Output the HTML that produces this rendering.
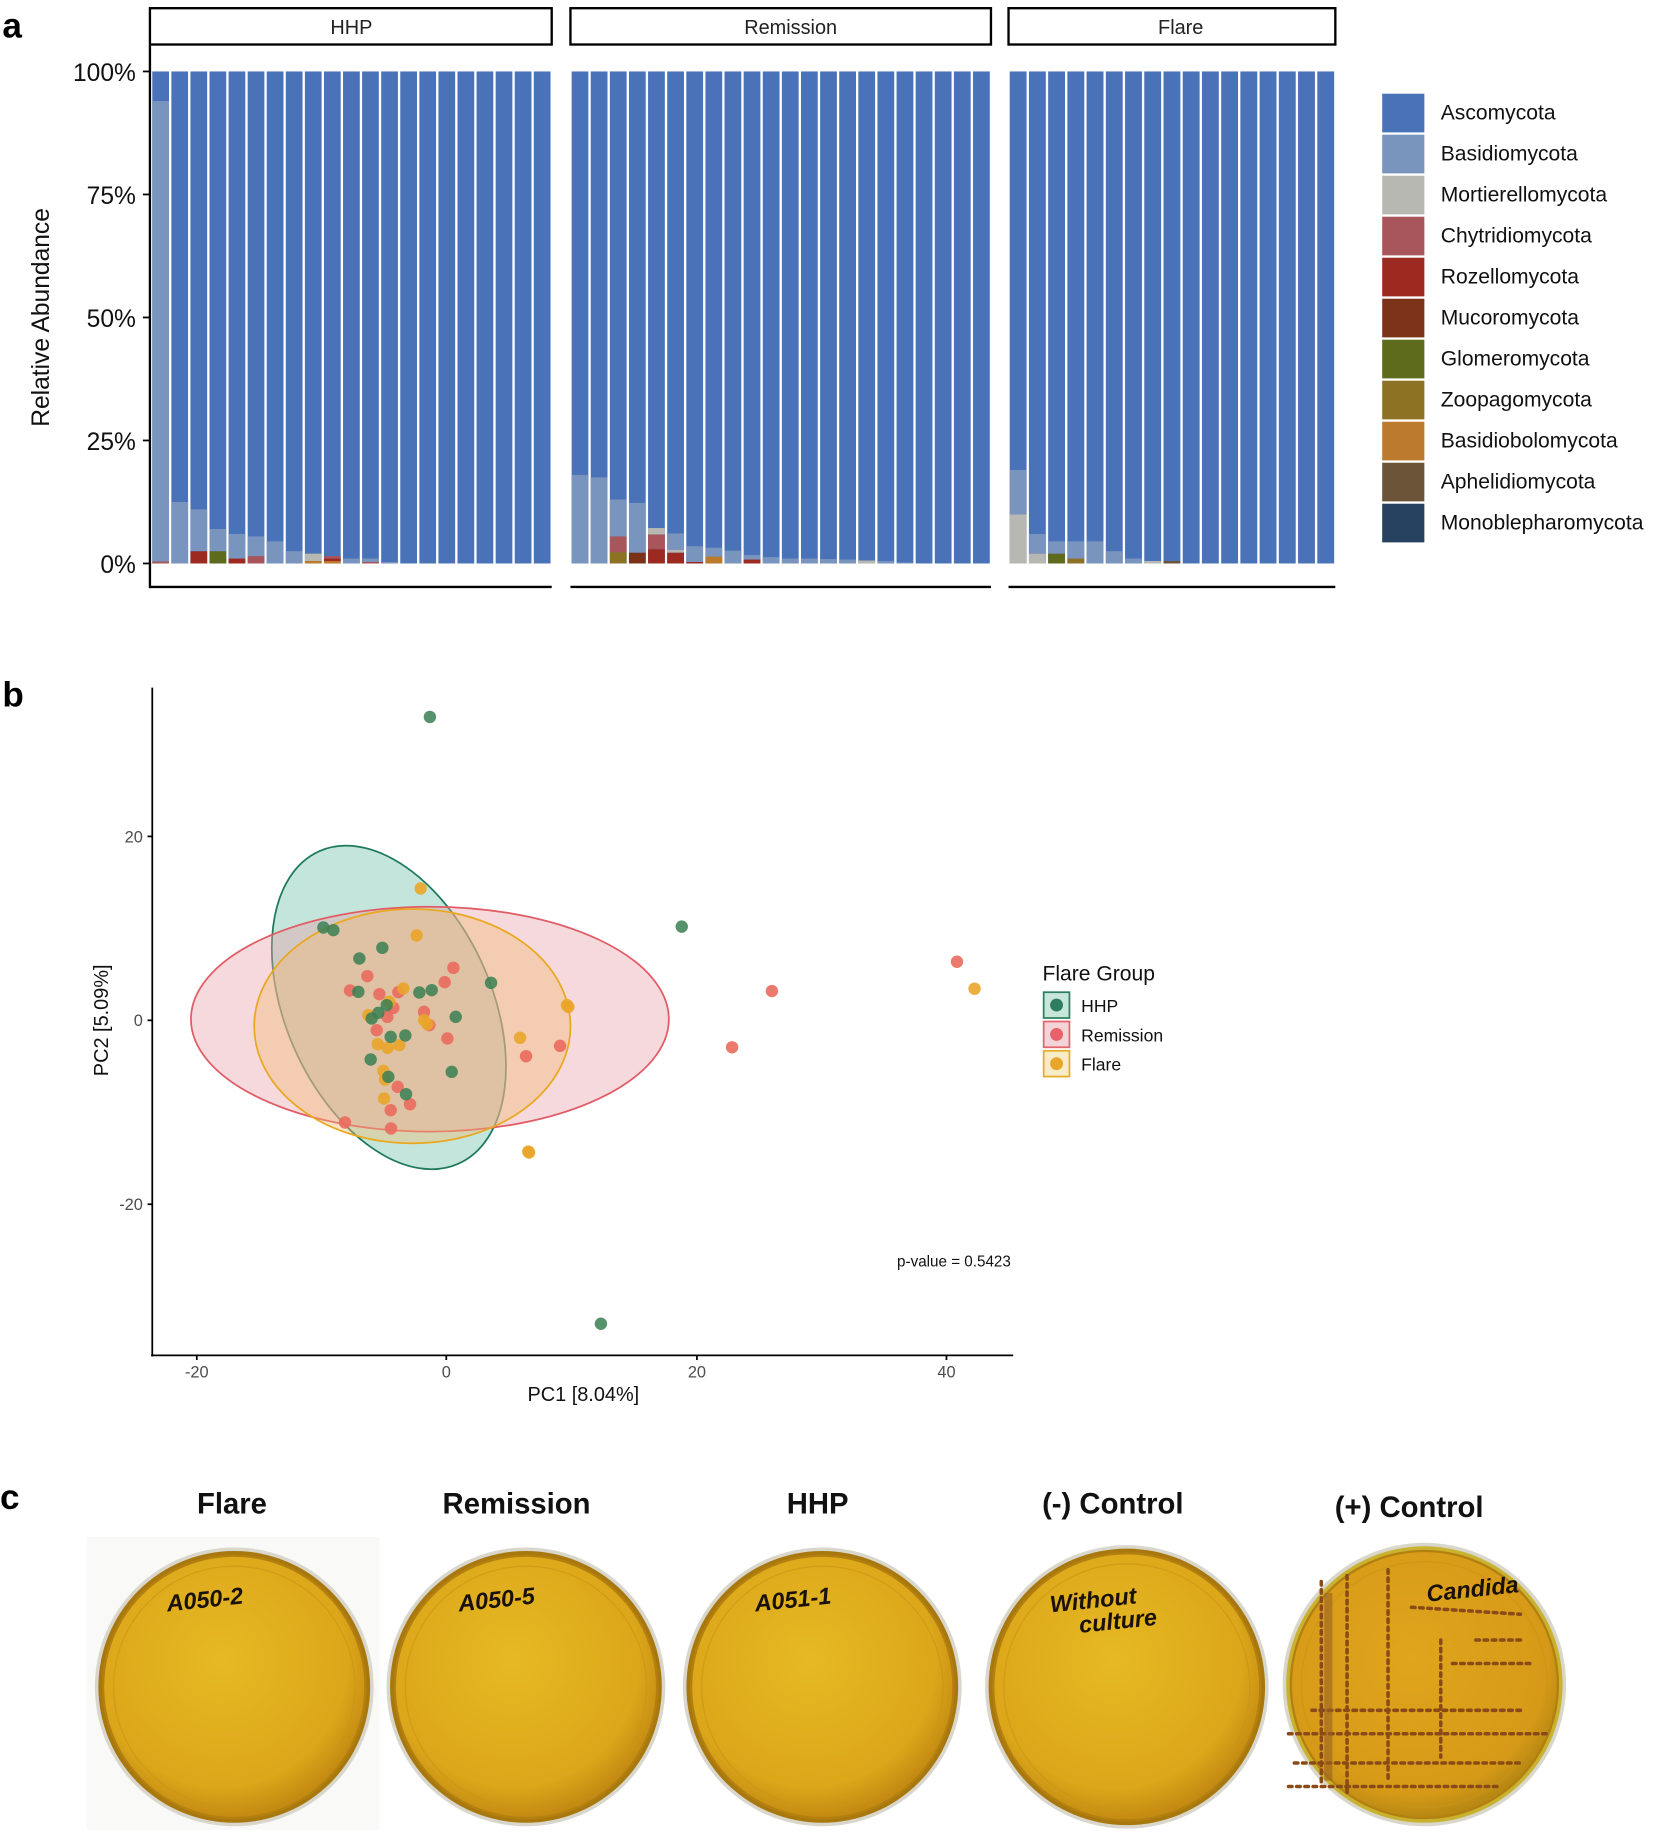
<!DOCTYPE html>
<html><head><meta charset="utf-8"><style>
html,body{margin:0;padding:0;background:#fff}
svg{display:block}
text{font-family:"Liberation Sans",Arial,sans-serif}
</style></head><body>
<svg id="s" xmlns="http://www.w3.org/2000/svg" width="1668" height="1838" viewBox="0 0 1424 1569" preserveAspectRatio="none">
<defs>
<radialGradient id="ag" cx="0.45" cy="0.4" r="0.6">
<stop offset="0" stop-color="#e6b923"/><stop offset="0.8" stop-color="#dca71a"/><stop offset="1" stop-color="#c48a12"/>
</radialGradient>
<radialGradient id="ag2" cx="0.45" cy="0.4" r="0.6">
<stop offset="0" stop-color="#e0a51c"/><stop offset="0.85" stop-color="#d69a18"/><stop offset="1" stop-color="#b78812"/>
</radialGradient>
</defs>
<!-- panel a -->
<text x="2" y="32" font-size="30" font-weight="bold">a</text>
<g fill="none" stroke="#000" stroke-width="2">
<rect x="128" y="7" width="343" height="31"/>
<rect x="487" y="7" width="359" height="31"/>
<rect x="861" y="7" width="279" height="31"/>
<line x1="128" y1="39" x2="128" y2="502"/>
<line x1="128" y1="501" x2="471" y2="501"/>
<line x1="487" y1="501" x2="846" y2="501"/>
<line x1="861" y1="501" x2="1140" y2="501"/>
</g>
<g font-size="17" text-anchor="middle" fill="#222">
<text x="300" y="29">HHP</text><text x="675" y="29">Remission</text><text x="1008" y="29">Flare</text>
</g>
<g font-size="21" text-anchor="end" fill="#111">
<text x="116" y="69">100%</text><text x="116" y="174">75%</text><text x="116" y="279">50%</text><text x="116" y="384">25%</text><text x="116" y="489">0%</text>
</g>
<g stroke="#000" stroke-width="1.5"><line x1="122" y1="61" x2="128" y2="61"/><line x1="122" y1="166" x2="128" y2="166"/><line x1="122" y1="271" x2="128" y2="271"/><line x1="122" y1="376" x2="128" y2="376"/><line x1="122" y1="481" x2="128" y2="481"/></g>
<text transform="translate(42,271) rotate(-90)" font-size="21" text-anchor="middle" fill="#111">Relative Abundance</text>
<g id="bars"></g>
<g id="leg" font-size="18" fill="#111"></g>

<!-- panel b -->
<text x="2" y="603" font-size="30" font-weight="bold">b</text>
<g id="ell">
<ellipse cx="0" cy="0" rx="146" ry="88" transform="translate(332,860) rotate(66)" fill="#6cbfa4" fill-opacity="0.4" stroke="#1f7a5c" stroke-width="1.5"/>
<ellipse cx="367" cy="870" rx="204" ry="96" fill="#e8a0a8" fill-opacity="0.4" stroke="#e05c66" stroke-width="1.5"/>
<ellipse cx="352" cy="876" rx="135" ry="100" fill="#f2b870" fill-opacity="0.4" stroke="#e9a820" stroke-width="1.5"/>
</g>
<g id="pts"></g>
<g stroke="#000" stroke-width="1.5" fill="none">
<line x1="130" y1="587" x2="130" y2="1158"/><line x1="129" y1="1157" x2="865" y2="1157"/>
<line x1="126" y1="714" x2="130" y2="714"/><line x1="126" y1="871" x2="130" y2="871"/><line x1="126" y1="1028" x2="130" y2="1028"/>
<line x1="168" y1="1157" x2="168" y2="1161"/><line x1="381" y1="1157" x2="381" y2="1161"/><line x1="595" y1="1157" x2="595" y2="1161"/><line x1="808" y1="1157" x2="808" y2="1161"/>
</g>
<g font-size="14" fill="#4d4d4d" text-anchor="end"><text x="122" y="719">20</text><text x="122" y="876">0</text><text x="122" y="1033">-20</text></g>
<g font-size="14" fill="#4d4d4d" text-anchor="middle"><text x="168" y="1176">-20</text><text x="381" y="1176">0</text><text x="595" y="1176">20</text><text x="808" y="1176">40</text></g>
<text x="498" y="1196" font-size="17" text-anchor="middle" fill="#111">PC1 [8.04%]</text>
<text transform="translate(92,871) rotate(-90)" font-size="17" text-anchor="middle" fill="#111">PC2 [5.09%]</text>
<text x="863" y="1081" font-size="13" text-anchor="end" fill="#111">p-value = 0.5423</text>
<text x="890" y="837" font-size="18" fill="#111">Flare Group</text>
<g stroke-width="1.5">
<rect x="891" y="847" width="22" height="22" fill="#c8e6dc" stroke="#2e8060"/><circle cx="902" cy="858" r="5.5" fill="#2e7d5f"/>
<rect x="891" y="872" width="22" height="22" fill="#f4d4d6" stroke="#e36570"/><circle cx="902" cy="883" r="5.5" fill="#e8606a"/>
<rect x="891" y="897" width="22" height="22" fill="#f6ecc7" stroke="#e6ac2c"/><circle cx="902" cy="908" r="5.5" fill="#e8a62a"/>
</g>
<g font-size="15" fill="#111"><text x="923" y="864">HHP</text><text x="923" y="889">Remission</text><text x="923" y="914">Flare</text></g>

<!-- panel c -->
<text x="0" y="1288" font-size="30" font-weight="bold">c</text>
<g font-size="25" font-weight="bold" text-anchor="middle" fill="#111">
<text x="198" y="1292">Flare</text><text x="441" y="1292">Remission</text><text x="698" y="1292">HHP</text><text x="950" y="1292">(-) Control</text><text x="1203" y="1295">(+) Control</text>
</g>
<rect x="74" y="1312" width="250" height="250" fill="#f9f9f7"/>
<g id="dishes"></g>
</svg>
<script>
var NS="http://www.w3.org/2000/svg";
function el(t,a,p){var e=document.createElementNS(NS,t);for(var k in a)e.setAttribute(k,a[k]);(p||document.getElementById("s")).appendChild(e);return e;}
var C={A:"#4a72b8",B:"#7994bd",M:"#b7b8b2",C:"#a8555c",R:"#9c2a20",U:"#7c3218",G:"#5e6a1c",Z:"#8e7224",O:"#bb7a2c",P:"#6b5438",N:"#26405f"};
var HHP=[[["C",0.4],["B",94]],[["B",12.5]],[["R",2.5],["B",11]],[["G",2.5],["B",7]],[["R",1],["B",6]],[["C",1.5],["B",5.5]],[["B",4.5]],[["B",2.5]],[["O",0.5],["M",2]],[["O",0.5],["R",1],["C",1.5]],[["B",1]],[["C",0.3],["B",1]],[["B",0.3]],[],[],[],[],[],[],[],[]];
var REM=[[["B",18]],[["B",17.5]],[["Z",2.3],["C",5.5],["B",13]],[["U",2.2],["B",12.3]],[["R",2.9],["C",5.9],["M",7.2]],[["R",2.2],["M",2.8],["B",6.1]],[["R",0.3],["B",3.5]],[["O",1.4],["B",3.2]],[["B",2.6]],[["R",0.8],["B",1.7]],[["B",1.3]],[["B",1]],[["B",1]],[["B",0.9]],[["B",0.8]],[["M",0.6]],[["B",0.5]],[["B",0.2]],[],[],[],[]];
var FLA=[[["M",10],["B",19]],[["M",2],["B",6]],[["G",2],["B",4.5]],[["Z",1],["B",4.5]],[["B",4.5]],[["B",2.5]],[["B",1]],[["M",0.5]],[["P",0.5]],[],[],[],[],[],[],[],[]];
var g=document.getElementById("bars");
function panel(x0,x1,data){var n=data.length,w=(x1-x0)/n;data.forEach(function(st,i){var x=x0+i*w+1,bw=w-2;el("rect",{x:x,y:61,width:bw,height:420,fill:C.A},g);var prev=0;st.forEach(function(s){var t=s[1];el("rect",{x:x,y:481-t*4.2,width:bw,height:(t-prev)*4.2,fill:C[s[0]]},g);prev=t;});});}
panel(129,471,HHP);panel(487,846,REM);panel(861,1140,FLA);
var names=[["A","Ascomycota"],["B","Basidiomycota"],["M","Mortierellomycota"],["C","Chytridiomycota"],["R","Rozellomycota"],["U","Mucoromycota"],["G","Glomeromycota"],["Z","Zoopagomycota"],["O","Basidiobolomycota"],["P","Aphelidiomycota"],["N","Monoblepharomycota"]];
var lg=document.getElementById("leg");
names.forEach(function(n,i){el("rect",{x:1180,y:80+i*35,width:36,height:33,fill:C[n[0]]},lg);var t=el("text",{x:1230,y:102+i*35},lg);t.textContent=n[1];});
function z(p){return [128.06+p[0]*0.2846,700.1+p[1]*0.2846];}
var pg=document.getElementById("pts");
var red=[[652,468],[600,511],[688,522],[745,516],[910,443],[884,486],[730,563],[712,590],[822,575],[838,615],[680,630],[892,655],[1230,677],[1128,708],[743,800],[780,852],[722,870],[585,907],[723,925]].map(z).concat([[817,821],[659,846],[625,894]]);
var ora=[[812,205],[800,346],[760,505],[655,585],[718,545],[822,600],[832,612],[683,672],[713,683],[748,675],[1255,560],[1110,653],[700,752],[705,778],[702,835],[1137,997]].map(z).concat([[832,844],[484,858],[451,983]]);
var grn=[[520,322],[550,330],[697,383],[628,415],[625,515],[808,517],[845,510],[1023,488],[710,555],[685,578],[665,595],[917,590],[722,650],[766,646],[662,718],[905,755],[715,770],[768,822]].map(z).concat([[367,612],[582,791],[513,1130]]);
function dots(a,c,o){a.forEach(function(p){el("circle",{cx:p[0],cy:p[1],r:5.3,fill:c,"fill-opacity":o},pg);});}
dots(red,"#ea6a5e",0.9);dots(ora,"#eaa52a",0.9);dots(grn,"#3b7f52",0.85);
var dg=document.getElementById("dishes");
var D=[[200,1440,119,"A050-2"],[449,1440,119,"A050-5"],[702,1440,119,"A051-1"],[962,1440,121,"Without"],[1216,1438,121,"Candida"]];
D.forEach(function(d,i){
el("circle",{cx:d[0],cy:d[1],r:d[2],fill:"#d9d6cc"},dg);
el("circle",{cx:d[0],cy:d[1],r:d[2]-3,fill:i==4?"#c9b230":"#a8780e"},dg);
el("circle",{cx:d[0],cy:d[1],r:d[2]-7,fill:i==4?"url(#ag2)":"url(#ag)",stroke:"#b3800f","stroke-width":2},dg);
el("circle",{cx:d[0],cy:d[1],r:d[2]-16,fill:"none",stroke:"#c99416","stroke-width":1.2,"stroke-opacity":0.6},dg);
var t=el("text",{x:d[0]-((i==3)?58:(i==4)?-10:50),y:d[1]-70,"font-size":20,"font-style":"italic","font-weight":"bold",fill:"#1a1208",transform:"rotate(-6 "+d[0]+" "+d[1]+")"},dg);t.textContent=d[3];
if(i==3){var t2=el("text",{x:d[0]-35,y:d[1]-50,"font-size":20,"font-style":"italic","font-weight":"bold",fill:"#1a1208",transform:"rotate(-6 "+d[0]+" "+d[1]+")"},dg);t2.textContent="culture";}
});
var sp=[[[1128,1350],[1128,1525]],[[1150,1345],[1150,1530]],[[1185,1340],[1185,1520]],[[1230,1400],[1230,1500]],[[1100,1480],[1320,1480]],[[1105,1505],[1300,1505]],[[1120,1460],[1300,1460]],[[1240,1420],[1310,1420]],[[1205,1372],[1298,1378]],[[1260,1400],[1300,1400]],[[1100,1525],[1280,1525]]];
sp.forEach(function(s){el("line",{x1:s[0][0],y1:s[0][1],x2:s[1][0],y2:s[1][1],stroke:"#8a4a18","stroke-width":3,"stroke-dasharray":"3 4","stroke-linecap":"round"},dg);});
el("line",{x1:1134,y1:1360,x2:1134,y2:1520,stroke:"#9a6020","stroke-width":7,"stroke-opacity":0.6},dg);
</script>
</body></html>
